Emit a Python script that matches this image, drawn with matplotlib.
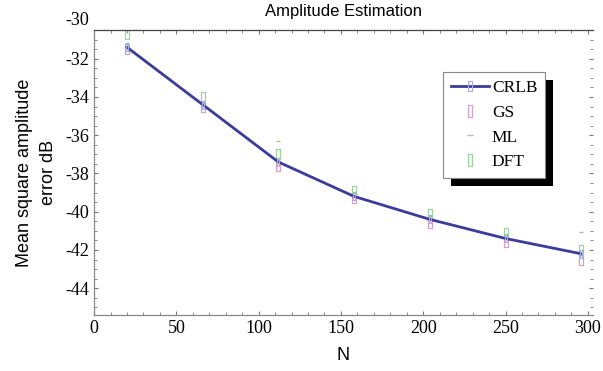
import numpy as np
import matplotlib
matplotlib.use('Agg')
import matplotlib.pyplot as plt
import matplotlib.transforms as mtransforms
from matplotlib.patches import Rectangle
from matplotlib.ticker import MultipleLocator

# data
N = [20, 66, 112, 158, 204, 250, 296]
crlb = [-31.4, -34.4, -37.4, -39.2, -40.4, -41.4, -42.2]
gs = [-31.5, -34.5, -37.6, -39.3, -40.6, -41.6, -42.5]
ml = [-31.2, -34.2, -36.3, -39.0, -40.2, -41.2, -41.05]
dft = [-30.7, -34.0, -37.0, -38.9, -40.1, -41.1, -42.0]

serif = 'Liberation Serif'
sans = 'Liberation Sans'
plt.rcParams['font.family'] = serif
plt.rcParams['axes.unicode_minus'] = False

# tall thin rectangle marker
rect = [(-1, -3), (1, -3), (1, 3), (-1, 3), (-1, -3)]

fig = plt.figure(figsize=(6.03, 3.71), dpi=100)
ax = fig.add_axes([0.156, 0.151, 0.827, 0.768])

ax.plot(N, crlb, color='#3b3b9c', lw=2.0, marker=rect, ms=6, mfc='none',
        mec='#a4aee0', mew=0.8, label='CRLB', zorder=3)
ax.plot(N, gs, ls='none', marker=rect, ms=7, mfc='none', mec='#d2a2c6',
        mew=0.9, label='GS', zorder=2)
ax.plot(N, ml, ls='none', marker='_', ms=3, mec='#c8b88a', mew=1.0,
        label='ML', zorder=2)
ax.plot(N, dft, ls='none', marker=rect, ms=7, mfc='none', mec='#9ed29e',
        mew=0.9, label='DFT', zorder=2)

ax.set_xlim(0, 303)
ax.set_ylim(-45.4, -30.5)
ax.set_xticks([0, 50, 100, 150, 200, 250, 300])
ax.set_yticks([-44, -42, -40, -38, -36, -34, -32])
ax.xaxis.set_minor_locator(MultipleLocator(10))
ax.yaxis.set_minor_locator(MultipleLocator(0.5))
ax.tick_params(which='both', direction='in', top=True, right=True,
               color='#777777', labelsize=13, labelfontfamily=serif)
ax.tick_params(which='major', length=3, width=0.8)
ax.tick_params(which='minor', length=2, width=0.6)

# the -30 label sits just above the frame in the original
trans = mtransforms.blended_transform_factory(ax.transAxes, ax.transData)
ax.text(-0.009, -30, '-30', transform=trans, ha='right', va='center',
        family=serif, fontsize=13, clip_on=False)

ax.spines['top'].set_color('#444444')
ax.spines['left'].set_color('#888888')
ax.spines['bottom'].set_color('#888888')
ax.spines['right'].set_visible(False)
for s in ['top', 'left', 'bottom']:
    ax.spines[s].set_linewidth(0.9)

ax.set_title('Amplitude Estimation', family=sans, fontsize=12, pad=10)
ax.set_xlabel('N', family=sans, fontsize=13, labelpad=7)
ax.set_ylabel('Mean square amplitude\nerror dB', family=sans, fontsize=13,
              labelpad=6, linespacing=1.5)

leg = ax.legend(loc='upper left', bbox_to_anchor=(0.70, 0.853),
                borderaxespad=0, prop={'family': serif, 'size': 12.5},
                frameon=True, fancybox=False, handlelength=2.2,
                handletextpad=0.15, labelspacing=0.5, borderpad=0.45,
                markerscale=1.3, edgecolor='#888888', framealpha=1)
leg.get_frame().set_linewidth(0.8)
leg.set_zorder(6)

# black drop shadow behind the legend box
fig.canvas.draw()
bb = leg.get_window_extent().transformed(fig.transFigure.inverted())
dx, dy = 8 / 603, 8 / 371
ax.add_patch(Rectangle((bb.x0 + dx, bb.y0 - dy), bb.width, bb.height,
                       transform=fig.transFigure, facecolor='black',
                       edgecolor='none', zorder=5, clip_on=False))

fig.savefig('out.png', dpi=100)
